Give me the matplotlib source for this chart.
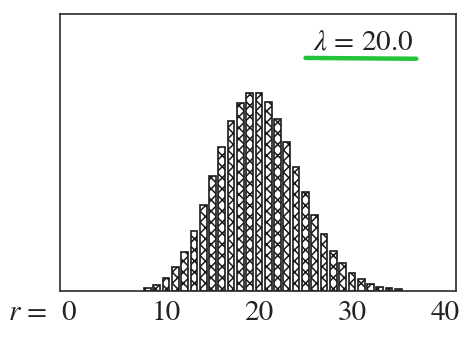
import matplotlib.pyplot as plt
from matplotlib.lines import Line2D
from matplotlib.transforms import ScaledTranslation

plt.rcParams['font.family'] = 'STIXGeneral'
plt.rcParams['mathtext.fontset'] = 'stix'
plt.rcParams['hatch.linewidth'] = 1.1

# Poisson probabilities P(r) for lambda = 20.0
r = [8, 9, 10, 11, 12, 13, 14, 15, 16, 17, 18, 19, 20, 21,
     22, 23, 24, 25, 26, 27, 28, 29, 30, 31, 32, 33, 34, 35]
p = [0.0013, 0.0029, 0.0058, 0.0106, 0.0176, 0.0271, 0.0387, 0.0516,
     0.0646, 0.0760, 0.0844, 0.0888, 0.0888, 0.0846, 0.0769, 0.0669,
     0.0557, 0.0446, 0.0343, 0.0254, 0.0181, 0.0125, 0.0083, 0.0054,
     0.0034, 0.0020, 0.0012, 0.0008]

ticks = [0, 10, 20, 30, 40]
tick_labels = ['$r$ =  0', '10', '20', '30', '40']
lam = 20.0

fig = plt.figure(figsize=(4.62, 3.37), dpi=100)
ax = fig.add_axes([0.130, 0.136, 0.857, 0.822])

ax.bar(r, p, width=0.72, facecolor='white', edgecolor='#1a1a1a',
       linewidth=1.2, hatch='xxx')

ax.set_xlim(-1.4, 41.2)
ax.set_ylim(0, 0.124)
ax.set_yticks([])
ax.set_xticks(ticks)
ax.set_xticklabels(tick_labels, fontsize=21, color='#222222')
ax.tick_params(axis='x', length=0, pad=7)

# first label carries the "r =" prefix: right-align it so the 0 sits on its tick
first = ax.get_xticklabels()[0]
first.set_horizontalalignment('right')
first.set_transform(first.get_transform()
                    + ScaledTranslation(4 / 100, 0, fig.dpi_scale_trans))

for s in ax.spines.values():
    s.set_linewidth(1.2)
    s.set_color('#2a2a2a')

ax.text(0.765, 0.895, r'$\lambda$ = %.1f' % lam, ha='center', va='center',
        fontsize=21, color='#222222', transform=ax.transAxes)
# green pen underline
ax.add_line(Line2D([0.62, 0.90], [0.842, 0.839], transform=ax.transAxes,
                   color='#22c43a', linewidth=3.2, solid_capstyle='round'))

fig.savefig('out.png', dpi=100)
